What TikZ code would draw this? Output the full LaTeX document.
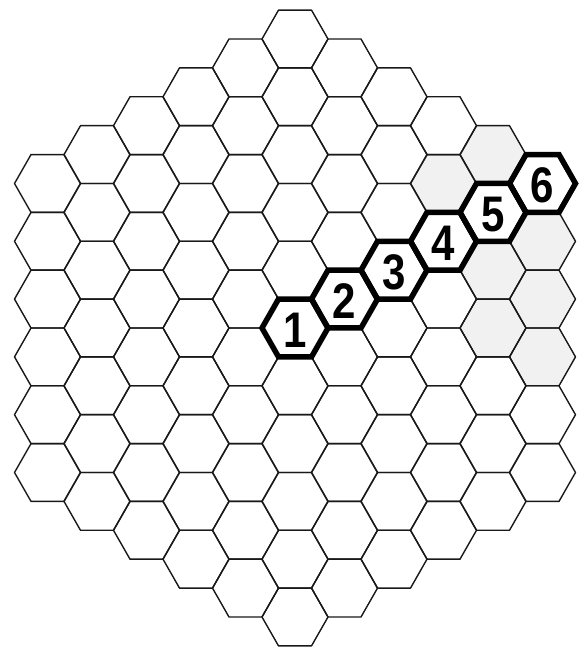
\documentclass[tikz,border=0pt]{standalone}
\usepackage{fontspec}
\newfontfamily\cellfont{Liberation Sans}[FakeStretch=0.84]
\usetikzlibrary{calc}
\definecolor{HexInk}{RGB}{25,25,25}
\definecolor{StippleGray}{RGB}{241,241,241}
\newcommand{\hexcell}[3][]{%
  \draw[#1,shift={({295+49.5*(#2)},{323-57.8*((#3)+(#2)/2)})}]
    (33,0)--(16.5,28.9)--(-16.5,28.9)--(-33,0)--(-16.5,-28.9)--(16.5,-28.9)--cycle;}

\begin{document}
\begin{tikzpicture}[x=1pt,y=1pt,
  board hex/.style={draw=HexInk,line width=1.4pt,line join=round},
  shaded hex/.style={draw=none,fill=StippleGray},
  marked hex/.style={draw=black,line width=5.5pt},
  cell number/.style={font=\cellfont\bfseries\fontsize{50}{50}\selectfont,inner sep=0pt}]
  \useasboundingbox (0,0) rectangle (581,651);
  % dotted cells near the top right
  \foreach \q/\r in {5/-4,5/-3,5/-2,4/-3,4/-2,4/-5,3/-4}
    \hexcell[shaded hex]{\q}{\r};
  % the board, six cells a side
  \foreach \q in {-5,...,5}{
    \foreach \r in {-5,...,5}{
      \pgfmathtruncatemacro{\s}{abs(\q+\r)}
      \ifnum\s<6 \hexcell[board hex]{\q}{\r}\fi
    }
  }
  % the numbered row
  \foreach \k in {1,...,6}{
    \pgfmathtruncatemacro{\q}{\k-1}
    \hexcell[marked hex]{\q}{-\q}
  }
  \foreach \k in {1,...,6}
    \node[cell number] (cell\k) at ({295+49.5*(\k-1)},{321+28.9*(\k-1)}) {\k};
\end{tikzpicture}
\end{document}
